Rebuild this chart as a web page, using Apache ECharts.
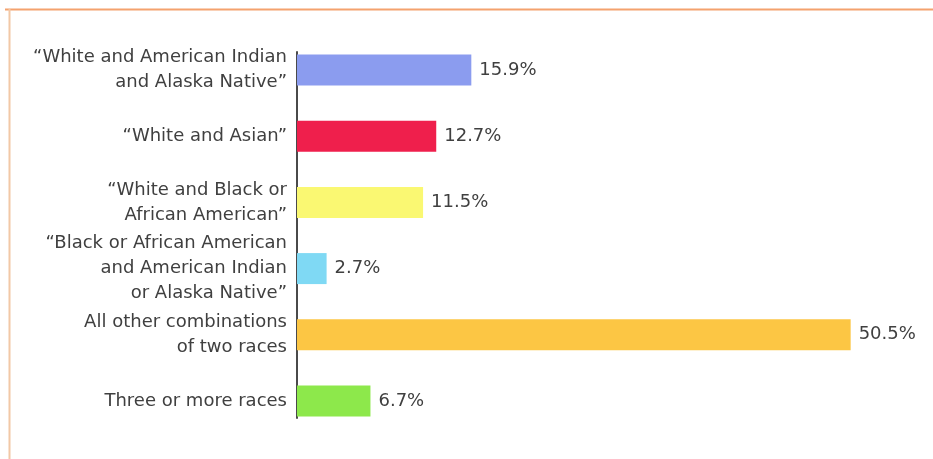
<!DOCTYPE html>
<html><head><meta charset="utf-8">
<script src="https://cdn.jsdelivr.net/npm/echarts@6/dist/echarts.min.js"></script>
<style>html,body{margin:0;padding:0;background:#fff}#c{width:933px;height:459px}</style>
</head><body><div id="c"></div>
<script>
const categories = [
  "“White and American Indian\nand Alaska Native”",
  "“White and Asian”",
  "“White and Black or\nAfrican American”",
  "“Black or African American\nand American Indian\nor Alaska Native”",
  "All other combinations\nof two races",
  "Three or more races"
];
const values = [15.9, 12.7, 11.5, 2.7, 50.5, 6.7];
const colors = ["#8b9cef", "#ef1f4c", "#faf872", "#7fd9f4", "#fcc644", "#8de84b"];

const chart = echarts.init(document.getElementById('c'));
chart.setOption({
  backgroundColor: '#ffffff',
  animation: false,
  graphic: [
    {type:'line', shape:{x1:5,y1:9.5,x2:933,y2:9.5}, style:{stroke:'#f4a26e', lineWidth:2}},
    {type:'line', shape:{x1:9.5,y1:9,x2:9.5,y2:459}, style:{stroke:'#f2c8a6', lineWidth:2}}
  ],
  grid: [
    {left: 297, top: 37, height: 397, right: 33},
    {left: 297, top: 52, height: 366, width: 10}
  ],
  xAxis: [
    {type:'value', min:0, max:55, show:false, gridIndex:0},
    {type:'value', min:0, max:1, show:false, gridIndex:1}
  ],
  yAxis: [
    {type:'category', data: categories, inverse:true, gridIndex:0,
     axisLine:{show:false}, axisTick:{show:false}, splitLine:{show:false},
     axisLabel:{color:'#404040', fontSize:18, fontFamily:'DejaVu Sans', lineHeight:25, margin:10, align:'right'}},
    {type:'value', gridIndex:1, min:0, max:1, axisLine:{show:true, lineStyle:{color:'#4a4a4a', width:2}},
     axisTick:{show:false}, axisLabel:{show:false}, splitLine:{show:false}}
  ],
  series: [{
    type:'bar', xAxisIndex:0, yAxisIndex:0,
    data: values.map((v,i)=>({value:v, itemStyle:{color:colors[i]}})),
    barWidth: 31,
    label:{show:true, position:'right', distance:8, formatter: p => p.value.toFixed(1) + '%',
      color:'#404040', fontSize:18, fontFamily:'DejaVu Sans'}
  }]
});
</script></body></html>
